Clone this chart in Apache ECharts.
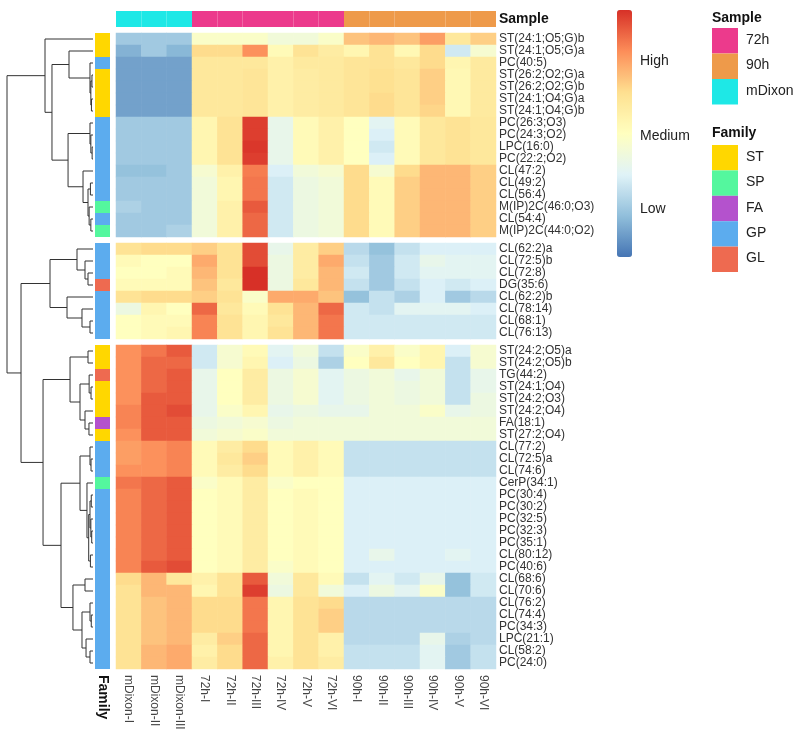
<!DOCTYPE html>
<html>
<head>
<meta charset="utf-8">
<script src="https://cdn.jsdelivr.net/npm/echarts@6/dist/echarts.min.js"></script>
<style>
html, body { margin: 0; background: #fff; }
#chart { width: 800px; height: 739px; }
</style>
</head>
<body>
<div id="chart"></div>
<script>
// columns and their sample group
const columns = ['mDixon-I', 'mDixon-II', 'mDixon-III', '72h-I', '72h-II', '72h-III', '72h-IV', '72h-V', '72h-VI',
  '90h-I', '90h-II', '90h-III', '90h-IV', '90h-V', '90h-VI']
const columnSample = ['mDixon', 'mDixon', 'mDixon', '72h', '72h', '72h', '72h', '72h', '72h',
  '90h', '90h', '90h', '90h', '90h', '90h']

// row clusters (top to bottom)
const rowsA = ['ST(24:1;O5;G)b', 'ST(24:1;O5;G)a', 'PC(40:5)', 'ST(26:2;O2;G)a', 'ST(26:2;O2;G)b', 'ST(24:1;O4;G)a',
  'ST(24:1;O4;G)b', 'PC(26:3;O3)', 'PC(24:3;O2)', 'LPC(16:0)', 'PC(22:2;O2)', 'CL(47:2)', 'CL(49:2)', 'CL(56:4)',
  'M(IP)2C(46:0;O3)', 'CL(54:4)', 'M(IP)2C(44:0;O2)']
const rowsB = ['CL(62:2)a', 'CL(72:5)b', 'CL(72:8)', 'DG(35:6)', 'CL(62:2)b', 'CL(78:14)', 'CL(68:1)', 'CL(76:13)']
const rowsC = ['ST(24:2;O5)a', 'ST(24:2;O5)b', 'TG(44:2)', 'ST(24:1;O4)', 'ST(24:2;O3)', 'ST(24:2;O4)', 'FA(18:1)',
  'ST(27:2;O4)', 'CL(77:2)', 'CL(72:5)a', 'CL(74:6)', 'CerP(34:1)', 'PC(30:4)', 'PC(30:2)', 'PC(32:5)', 'PC(32:3)',
  'PC(35:1)', 'CL(80:12)', 'PC(40:6)', 'CL(68:6)', 'CL(70:6)', 'CL(76:2)', 'CL(74:4)', 'PC(34:3)', 'LPC(21:1)',
  'CL(58:2)', 'PC(24:0)']

const familyA = ['ST', 'ST', 'GP', 'ST', 'ST', 'ST', 'ST', 'GP', 'GP', 'GP', 'GP', 'GP', 'GP', 'GP', 'SP', 'GP', 'SP']
const familyB = ['GP', 'GP', 'GP', 'GL', 'GP', 'GP', 'GP', 'GP']
const familyC = ['ST', 'ST', 'GL', 'ST', 'ST', 'ST', 'FA', 'ST', 'GP', 'GP', 'GP', 'SP', 'GP', 'GP', 'GP', 'GP',
  'GP', 'GP', 'GP', 'GP', 'GP', 'GP', 'GP', 'GP', 'GP', 'GP', 'GP']

// scaled abundance, one row per lipid, one value per column
const valsA = [
  [-1.2, -1.2, -1.2, -0.1, -0.1, -0.1, -0.3, -0.3, -0.1, 0.9, 1.0, 0.9, 1.2, 0.5, 0.8],
  [-1.45, -1.2, -1.4, 0.7, 0.7, 1.3, 0.1, 0.6, 0.4, 0.2, 0.6, 0.15, 0.7, -0.8, -0.2],
  [-1.6, -1.6, -1.6, 0.5, 0.5, 0.5, 0.3, 0.45, 0.45, 0.55, 0.6, 0.5, 0.7, 0.2, 0.45],
  [-1.6, -1.6, -1.6, 0.5, 0.5, 0.55, 0.3, 0.4, 0.45, 0.55, 0.65, 0.55, 0.8, 0.15, 0.45],
  [-1.6, -1.6, -1.6, 0.5, 0.5, 0.55, 0.3, 0.4, 0.45, 0.55, 0.65, 0.55, 0.8, 0.15, 0.45],
  [-1.6, -1.6, -1.6, 0.5, 0.5, 0.55, 0.3, 0.4, 0.45, 0.55, 0.7, 0.55, 0.8, 0.15, 0.45],
  [-1.6, -1.6, -1.6, 0.5, 0.5, 0.55, 0.3, 0.4, 0.45, 0.55, 0.7, 0.55, 0.75, 0.15, 0.45],
  [-1.2, -1.2, -1.2, 0.2, 0.6, 1.9, -0.5, 0.1, 0.3, 0.0, -0.6, 0.1, 0.5, 0.6, 0.5],
  [-1.2, -1.2, -1.2, 0.2, 0.6, 1.9, -0.5, 0.1, 0.3, 0.0, -0.7, 0.1, 0.5, 0.6, 0.5],
  [-1.2, -1.2, -1.2, 0.2, 0.6, 1.95, -0.5, 0.1, 0.3, 0.0, -0.8, 0.1, 0.5, 0.6, 0.5],
  [-1.2, -1.2, -1.2, 0.2, 0.6, 1.9, -0.5, 0.1, 0.3, 0.0, -0.7, 0.1, 0.5, 0.6, 0.5],
  [-1.3, -1.3, -1.2, -0.2, 0.3, 1.45, -0.7, -0.3, -0.2, 0.7, -0.2, 0.7, 1.0, 1.0, 0.8],
  [-1.2, -1.2, -1.2, -0.3, 0.2, 1.5, -0.8, -0.4, -0.3, 0.7, 0.1, 0.8, 1.0, 1.0, 0.8],
  [-1.2, -1.2, -1.2, -0.3, 0.2, 1.5, -0.8, -0.4, -0.3, 0.7, 0.1, 0.8, 1.0, 1.0, 0.8],
  [-1.1, -1.2, -1.2, -0.3, 0.3, 1.7, -0.8, -0.4, -0.3, 0.7, 0.1, 0.8, 1.0, 1.0, 0.8],
  [-1.2, -1.2, -1.2, -0.3, 0.3, 1.6, -0.8, -0.4, -0.3, 0.7, 0.1, 0.8, 1.0, 1.0, 0.8],
  [-1.2, -1.2, -1.1, -0.3, 0.3, 1.6, -0.8, -0.4, -0.3, 0.7, 0.1, 0.8, 1.0, 1.0, 0.8]
]
const valsB = [
  [0.6, 0.7, 0.7, 0.8, 0.6, 1.8, -0.5, 0.4, 0.8, -1.0, -1.3, -0.9, -0.7, -0.7, -0.7],
  [0.1, 0.0, 0.0, 1.1, 0.6, 1.8, -0.4, 0.4, 1.1, -0.9, -1.2, -0.8, -0.5, -0.6, -0.6],
  [0.0, 0.0, 0.1, 1.0, 0.6, 2.0, -0.4, 0.4, 1.0, -0.8, -1.2, -0.8, -0.6, -0.6, -0.6],
  [0.1, 0.1, 0.1, 0.9, 0.5, 2.0, -0.4, 0.5, 1.0, -0.9, -1.2, -0.9, -0.7, -0.8, -0.7],
  [0.6, 0.7, 0.7, 0.8, 0.6, -0.1, 1.1, 1.1, 0.9, -1.3, -0.9, -1.1, -0.7, -1.2, -1.0],
  [-0.4, 0.2, 0.0, 1.6, 0.5, 0.1, 0.6, 1.0, 1.6, -0.8, -0.9, -0.6, -0.6, -0.6, -0.7],
  [0.0, 0.1, 0.1, 1.4, 0.6, 0.2, 0.5, 1.0, 1.5, -0.8, -0.8, -0.8, -0.8, -0.8, -0.8],
  [0.0, 0.1, 0.2, 1.4, 0.6, 0.2, 0.6, 1.0, 1.5, -0.8, -0.8, -0.8, -0.8, -0.8, -0.8]
]
const valsC = [
  [1.3, 1.5, 1.7, -0.8, -0.2, 0.1, -0.6, -0.3, -0.9, -0.1, 0.3, -0.1, 0.2, -0.7, -0.2],
  [1.3, 1.6, 1.6, -0.8, -0.2, 0.2, -0.7, -0.4, -1.1, 0.0, 0.5, 0.0, 0.2, -0.9, -0.2],
  [1.3, 1.6, 1.7, -0.5, 0.0, 0.4, -0.4, -0.2, -0.6, -0.4, -0.3, -0.5, -0.3, -0.9, -0.5],
  [1.3, 1.6, 1.7, -0.5, 0.0, 0.4, -0.4, -0.2, -0.6, -0.4, -0.3, -0.4, -0.3, -0.9, -0.5],
  [1.3, 1.7, 1.7, -0.5, 0.0, 0.4, -0.4, -0.2, -0.6, -0.4, -0.3, -0.4, -0.3, -0.9, -0.4],
  [1.4, 1.7, 1.8, -0.5, -0.1, 0.2, -0.5, -0.4, -0.5, -0.5, -0.3, -0.3, -0.1, -0.5, -0.4],
  [1.4, 1.7, 1.7, -0.4, -0.3, -0.2, -0.4, -0.3, -0.3, -0.3, -0.3, -0.3, -0.3, -0.3, -0.3],
  [1.3, 1.7, 1.7, -0.3, -0.2, -0.1, -0.3, -0.3, -0.3, -0.3, -0.3, -0.3, -0.3, -0.3, -0.3],
  [1.2, 1.3, 1.4, 0.1, 0.4, 0.7, 0.1, 0.3, 0.1, -0.9, -0.9, -0.9, -0.9, -0.9, -0.9],
  [1.2, 1.3, 1.4, 0.1, 0.5, 0.8, 0.1, 0.3, 0.1, -0.9, -0.9, -0.9, -0.9, -0.9, -0.9],
  [1.3, 1.3, 1.4, 0.1, 0.4, 0.7, 0.1, 0.3, 0.1, -0.9, -0.9, -0.9, -0.9, -0.9, -0.9],
  [1.5, 1.6, 1.7, -0.1, 0.1, 0.4, -0.1, 0.0, 0.0, -0.7, -0.7, -0.7, -0.7, -0.7, -0.7],
  [1.4, 1.6, 1.7, 0.0, 0.1, 0.4, 0.0, 0.1, 0.0, -0.7, -0.7, -0.7, -0.7, -0.7, -0.7],
  [1.4, 1.6, 1.7, 0.0, 0.1, 0.4, 0.0, 0.1, 0.0, -0.7, -0.7, -0.7, -0.7, -0.7, -0.7],
  [1.4, 1.6, 1.7, 0.0, 0.1, 0.4, 0.0, 0.1, 0.0, -0.7, -0.7, -0.7, -0.7, -0.7, -0.7],
  [1.4, 1.6, 1.7, 0.0, 0.1, 0.4, 0.0, 0.1, 0.0, -0.7, -0.7, -0.7, -0.7, -0.7, -0.7],
  [1.4, 1.6, 1.7, 0.0, 0.1, 0.4, 0.0, 0.1, 0.0, -0.7, -0.7, -0.7, -0.7, -0.7, -0.7],
  [1.4, 1.6, 1.7, 0.0, 0.1, 0.4, 0.0, 0.1, 0.0, -0.7, -0.5, -0.7, -0.7, -0.6, -0.7],
  [1.4, 1.7, 1.8, 0.0, 0.1, 0.4, -0.1, 0.1, 0.0, -0.7, -0.7, -0.7, -0.7, -0.7, -0.7],
  [0.7, 1.0, 0.5, 0.3, 0.6, 1.7, -0.3, 0.5, 0.1, -0.9, -0.6, -0.8, -0.5, -1.3, -0.8],
  [0.6, 1.0, 1.0, 0.2, 0.6, 1.9, -0.4, 0.5, -0.3, -0.7, -0.4, -0.6, -0.1, -1.3, -0.8],
  [0.6, 0.9, 1.0, 0.7, 0.7, 1.5, 0.2, 0.6, 0.7, -1.0, -1.0, -1.0, -1.0, -1.0, -1.0],
  [0.6, 0.9, 1.0, 0.7, 0.7, 1.5, 0.2, 0.6, 0.8, -1.0, -1.0, -1.0, -1.0, -1.0, -1.0],
  [0.6, 0.9, 1.0, 0.7, 0.7, 1.5, 0.2, 0.6, 0.8, -1.0, -1.0, -1.0, -1.0, -1.0, -1.0],
  [0.6, 0.9, 1.0, 0.4, 0.8, 1.6, 0.2, 0.6, 0.3, -1.0, -1.0, -1.0, -0.5, -1.1, -1.0],
  [0.6, 1.0, 1.1, 0.3, 0.7, 1.6, 0.2, 0.6, 0.3, -0.9, -0.9, -0.9, -0.6, -1.2, -0.9],
  [0.6, 1.0, 1.1, 0.4, 0.7, 1.6, 0.3, 0.6, 0.4, -0.9, -0.9, -0.9, -0.6, -1.2, -0.9]
]

// row dendrogram: [height, left, right], leaves are global row indices (0..51)
const rowTree = [10,
  [5.58, 0, [4.77,
    [2.79, 1, [0.35, 2, [0.25, [0.12, 3, 4], [0.18, 5, 6]]]],
    [2.9, [0.35, 7, [0.25, 8, [0.1, 9, 10]]], [1.16, 11, [0.58, [0.3, 12, 13], [0.45, 14, [0.25, 15, 16]]]]]]],
  [8.37,
    [5.0, [1.86, 17, [0.93, 18, [0.58, 19, 20]]], [3.02, 21, [1.28, 22, [0.35, 23, 24]]]],
    [5.81,
      [2.67, [0.58, 25, 26], [1.51, [0.45, 27, [0.23, 28, 29]], [0.93, 30, [0.47, 31, 32]]]],
      [3.72,
        [1.51, [0.35, 33, [0.23, 34, 35]],
          [0.7, 36, [0.5, [0.35, [0.2, 37, 38], [0.25, 39, [0.15, 40, 41]]], [0.3, 42, 43]]]],
        [2.33, [0.93, 44, 45], [1.28, [0.35, 46, [0.2, 47, 48]], [0.81, 49, [0.35, 50, 51]]]]]]]]

const sampleLegend = ['72h', '90h', 'mDixon']
const familyLegend = ['ST', 'SP', 'FA', 'GP', 'GL']
const sampleColors = { '72h': '#EC3A8C', '90h': '#EE9A4A', 'mDixon': '#1EE8E6' }
const familyColors = { ST: '#FFD700', SP: '#54F79E', FA: '#B452CD', GP: '#5CACEE', GL: '#EE6A50' }
const palette = ['#4575B4', '#91BFDB', '#E0F3F8', '#FFFFBF', '#FEE090', '#FC8D59', '#D73027']

const chart = echarts.init(document.getElementById('chart'))

// layout
const HM_LEFT = 116, HM_W = 380, ROW_H = 12, GAP = 6, TOP = 33
const groups = [rowsA, rowsB, rowsC]
const groupTops = []
let t = TOP
groups.forEach(g => { groupTops.push(t); t += g.length * ROW_H + GAP })
const totalUnits = rowsA.length + rowsB.length + rowsC.length + 1 // two half-row gaps
const totalH = totalUnits * ROW_H

// leaf position in row units, gaps count as half a row
function leafPos(i) {
  return i + 0.5 + (i >= rowsA.length ? 0.5 : 0) + (i >= rowsA.length + rowsB.length ? 0.5 : 0)
}

const dendroLines = []
function walk(node) {
  if (typeof node === 'number') return { h: 0, y: leafPos(node) }
  const [h, l, r] = node
  const a = walk(l), b = walk(r)
  dendroLines.push({ coords: [[a.h, a.y], [h, a.y], [h, b.y], [b.h, b.y]] })
  return { h, y: (a.y + b.y) / 2 }
}
walk(rowTree)

const familyData = [...familyA, ...familyB, ...familyC].map((f, i) => ({ value: [leafPos(i), i], fam: f }))

const grids = [], xAxes = [], yAxes = [], series = []

groups.forEach((rows, gi) => {
  grids.push({ left: HM_LEFT, top: groupTops[gi], width: HM_W, height: rows.length * ROW_H })
  xAxes.push({
    type: 'category', gridIndex: gi, data: columns,
    show: gi === 2,
    axisLine: { show: false }, axisTick: { show: false },
    axisLabel: { rotate: -90, interval: 0, fontSize: 12, color: '#444', margin: 6, fontFamily: 'Liberation Sans' }
  })
  yAxes.push({
    type: 'category', gridIndex: gi, data: rows, inverse: true, position: 'right',
    axisLine: { show: false }, axisTick: { show: false },
    axisLabel: { interval: 0, fontSize: 12, lineHeight: 12, color: '#333', margin: 3, fontFamily: 'Liberation Sans' }
  })
  const vals = [valsA, valsB, valsC][gi]
  const data = []
  vals.forEach((row, r) => row.forEach((v, c) => data.push([c, r, v])))
  series.push({
    type: 'heatmap', xAxisIndex: gi, yAxisIndex: gi, data,
    emphasis: { disabled: true }, itemStyle: { borderWidth: 0 }
  })
})

// sample annotation bar (grid 3)
grids.push({ left: HM_LEFT, top: 11, width: HM_W, height: 16 })
xAxes.push({ type: 'category', gridIndex: 3, data: columns, show: false })
yAxes.push({
  type: 'category', gridIndex: 3, data: ['Sample'], position: 'right',
  axisLine: { show: false }, axisTick: { show: false },
  axisLabel: { fontSize: 14, fontWeight: 'bold', color: '#111', margin: 3, fontFamily: 'Liberation Sans' }
})
series.push({
  type: 'custom', xAxisIndex: 3, yAxisIndex: 3,
  data: columnSample.map((s, i) => ({ value: [i, 0], s })),
  renderItem: (params, api) => {
    const c = api.coord([api.value(0), 0]), sz = api.size([1, 1])
    return { type: 'rect', shape: { x: c[0] - sz[0] / 2, y: c[1] - sz[1] / 2, width: sz[0], height: sz[1] },
      style: { fill: sampleColors[columnSample[params.dataIndex]] } }
  }
})

// family column (grid 4)
grids.push({ left: 95, top: TOP, width: 15, height: totalH })
xAxes.push({
  type: 'category', gridIndex: 4, data: ['Family'],
  axisLine: { show: false }, axisTick: { show: false },
  axisLabel: { rotate: -90, fontSize: 14, fontWeight: 'bold', color: '#111', margin: 6, fontFamily: 'Liberation Sans' }
})
yAxes.push({ type: 'value', gridIndex: 4, min: 0, max: totalUnits, inverse: true, show: false })
series.push({
  type: 'custom', xAxisIndex: 4, yAxisIndex: 4, data: familyData,
  renderItem: (params, api) => {
    const p = api.value(0)
    const c0 = api.coord([0, p - 0.5]), c1 = api.coord([0, p + 0.5]), w = api.size([1, 0])[0]
    return { type: 'rect', shape: { x: c0[0] - w / 2, y: c0[1], width: w, height: c1[1] - c0[1] },
      style: { fill: familyColors[familyData[params.dataIndex].fam] } }
  }
})

// row dendrogram (grid 5)
grids.push({ left: 7, top: TOP, width: 86, height: totalH })
xAxes.push({ type: 'value', gridIndex: 5, min: 0, max: 10, inverse: true, show: false })
yAxes.push({ type: 'value', gridIndex: 5, min: 0, max: totalUnits, inverse: true, show: false })
series.push({
  type: 'lines', coordinateSystem: 'cartesian2d', xAxisIndex: 5, yAxisIndex: 5,
  polyline: true, silent: true, data: dendroLines,
  lineStyle: { color: '#333', width: 1, opacity: 1 }
})

// legends
const graphic = []
const txt = (x, y, text, bold) => ({ type: 'text', left: x, top: y, silent: true,
  style: { text, fontSize: 14, fontWeight: bold ? 'bold' : 'normal', fill: bold ? '#111' : '#222', fontFamily: 'Liberation Sans' } })
graphic.push(txt(640, 54, 'High'), txt(640, 129, 'Medium'), txt(640, 202, 'Low'))
graphic.push(txt(712, 11, 'Sample', true))
sampleLegend.forEach((s, i) => {
  graphic.push({ type: 'rect', left: 712, top: 28 + i * 25.5, shape: { width: 26, height: 25.5 }, style: { fill: sampleColors[s] } })
  graphic.push(txt(746, 33 + i * 25.5, s))
})
graphic.push(txt(712, 126, 'Family', true))
familyLegend.forEach((f, i) => {
  graphic.push({ type: 'rect', left: 712, top: 145 + i * 25.4, shape: { width: 26, height: 25.4 }, style: { fill: familyColors[f] } })
  graphic.push(txt(746, 150 + i * 25.4, f))
})

chart.setOption({
  backgroundColor: '#fff',
  animation: false,
  grid: grids,
  xAxis: xAxes,
  yAxis: yAxes,
  visualMap: {
    type: 'continuous', min: -2, max: 2, seriesIndex: [0, 1, 2],
    calculable: false, left: 617, top: 10, itemWidth: 15, itemHeight: 247,
    padding: 0, showLabel: false, hoverLink: false,
    inRange: { color: palette }
  },
  graphic,
  series
})
</script>
</body>
</html>
